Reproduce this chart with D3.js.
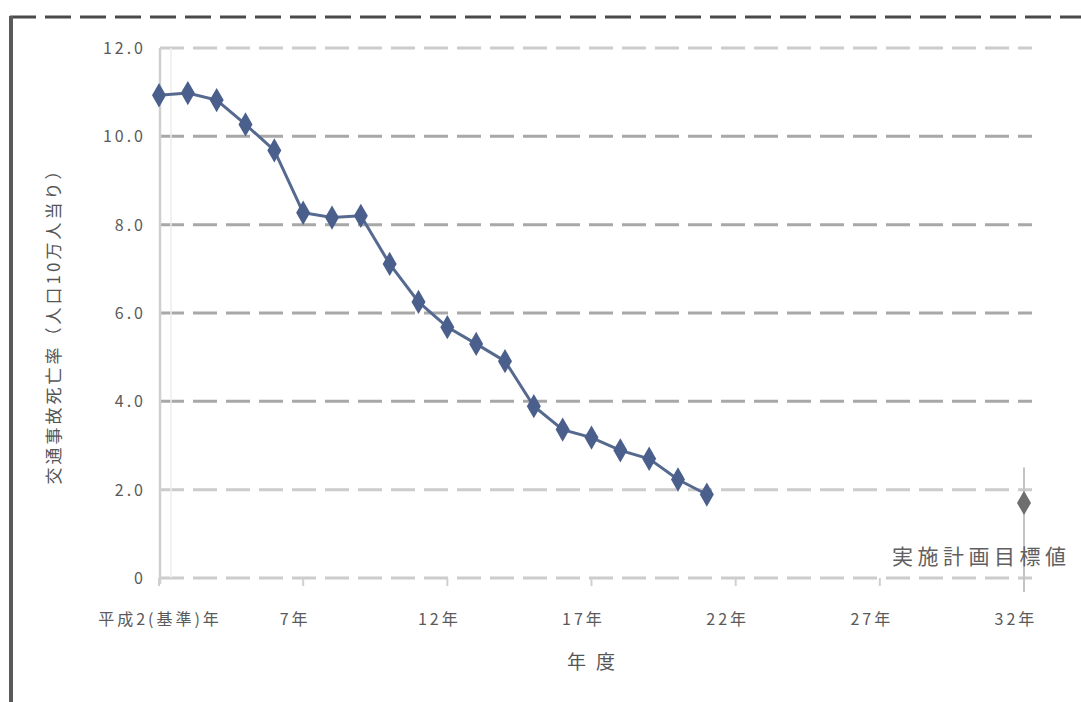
<!DOCTYPE html>
<html><head><meta charset="utf-8">
<script src="https://cdn.jsdelivr.net/npm/d3@7"></script>
<style>
html,body{margin:0;padding:0;background:#fff;}
svg{display:block;font-family:"Noto Sans CJK JP","Noto Sans",sans-serif;}
</style></head>
<body>
<svg id="c" width="1081" height="702"></svg>
<script>
// data
const years = [2,3,4,5,6,7,8,9,10,11,12,13,14,15,16,17,18,19,20,21];
const values = [10.93,10.98,10.82,10.27,9.68,8.27,8.16,8.20,7.11,6.25,5.68,5.30,4.91,3.89,3.36,3.18,2.89,2.70,2.23,1.89];
const targetYear = [32];
const targetValue = [1.70];
const targetLabel = ["実施計画目標値"];
const xTickValues = [2,7,12,17,22,27,32];
const xTickLabels = ["平成2(基準)年","7年","12年","17年","22年","27年","32年"];
const yTickValues = [0,2,4,6,8,10,12];
const yTickLabels = ["0","2.0","4.0","6.0","8.0","10.0","12.0"];
const xTitle = "年度";
const yTitle = "交通事故死亡率（人口10万人当り）";

const svg = d3.select("#c");
const x = d3.scaleLinear().domain([2,32]).range([159,1024]);
const y = d3.scaleLinear().domain([0,12]).range([578,48]);

// outer frame (dashed top, solid left)
svg.append("line").attr("x1",10).attr("x2",1081).attr("y1",17).attr("y2",17)
  .attr("stroke","#4a4a4a").attr("stroke-width",3).attr("stroke-dasharray","26,9");
svg.append("line").attr("x1",11).attr("x2",11).attr("y1",16).attr("y2",702)
  .attr("stroke","#5a5a5a").attr("stroke-width",4);

// horizontal gridlines
const gx = 160, gx2 = 1032;
svg.append("g").selectAll("line").data(yTickValues).join("line")
  .attr("x1",gx).attr("x2",gx2)
  .attr("y1",d=>y(d)).attr("y2",d=>y(d))
  .attr("stroke",d=> (d===0||d===12||d===2) ? "#cccccc" : "#a8a8a8")
  .attr("stroke-width",3).attr("stroke-dasharray","24,9");

// y axis line
svg.append("line").attr("x1",gx).attr("x2",gx).attr("y1",y(12)).attr("y2",y(0)+6)
  .attr("stroke","#cfcfcf").attr("stroke-width",2.5);
svg.append("line").attr("x1",gx+11).attr("x2",gx+11).attr("y1",y(12)).attr("y2",y(0))
  .attr("stroke","#ececec").attr("stroke-width",1.5);

// x tick marks
svg.append("g").selectAll("line").data(xTickValues).join("line")
  .attr("x1",d=>x(d)).attr("x2",d=>x(d)).attr("y1",y(0)).attr("y2",y(0)+8)
  .attr("stroke","#d0d0d0").attr("stroke-width",2);

// y tick labels
svg.append("g").selectAll("text").data(yTickValues).join("text")
  .attr("x",146).attr("y",d=>y(d)+6)
  .attr("text-anchor","end").attr("font-size",16).attr("letter-spacing",3)
  .attr("fill","#5a5a5a").text((d,i)=>yTickLabels[i]);

// x tick labels
svg.append("g").selectAll("text").data(xTickValues).join("text")
  .attr("x",(d,i)=> i===0 ? x(d)+1 : x(d)-8).attr("y",625)
  .attr("text-anchor","middle").attr("font-size",16).attr("letter-spacing",3)
  .attr("fill","#5a5a5a").text((d,i)=>xTickLabels[i]);

// axis titles
svg.append("text").attr("x",596).attr("y",669).attr("text-anchor","middle")
  .attr("font-size",19).attr("letter-spacing",10).attr("fill","#555").text(xTitle);
svg.append("text").attr("transform","translate(60,322) rotate(-90)")
  .attr("text-anchor","middle").attr("font-size",17).attr("letter-spacing",3)
  .attr("fill","#555").text(yTitle);

// target drop line
svg.append("line").attr("x1",x(32)).attr("x2",x(32)).attr("y1",y(2.5)).attr("y2",y(0)+14)
  .attr("stroke","#c4c4c4").attr("stroke-width",2);

// series line
const line = d3.line().x((d,i)=>x(years[i])).y(d=>y(d));
svg.append("path").datum(values).attr("d",line)
  .attr("fill","none").attr("stroke","#56698f").attr("stroke-width",3);

// markers
const diamond = d3.symbol().type(d3.symbolDiamond).size(170);
svg.append("g").selectAll("path").data(values).join("path")
  .attr("transform",(d,i)=>`translate(${x(years[i])},${y(d)})`)
  .attr("d",diamond).attr("fill","#4a5f8c");

// target marker
svg.append("g").selectAll("path").data(targetValue).join("path")
  .attr("transform",(d,i)=>`translate(${x(targetYear[i])},${y(d)})`)
  .attr("d",diamond).attr("fill","#6e6e6e");

svg.append("text").attr("x",892).attr("y",564).attr("font-size",21).attr("letter-spacing",4.5)
  .attr("fill","#606060").text(targetLabel[0]);
</script>
</body></html>
